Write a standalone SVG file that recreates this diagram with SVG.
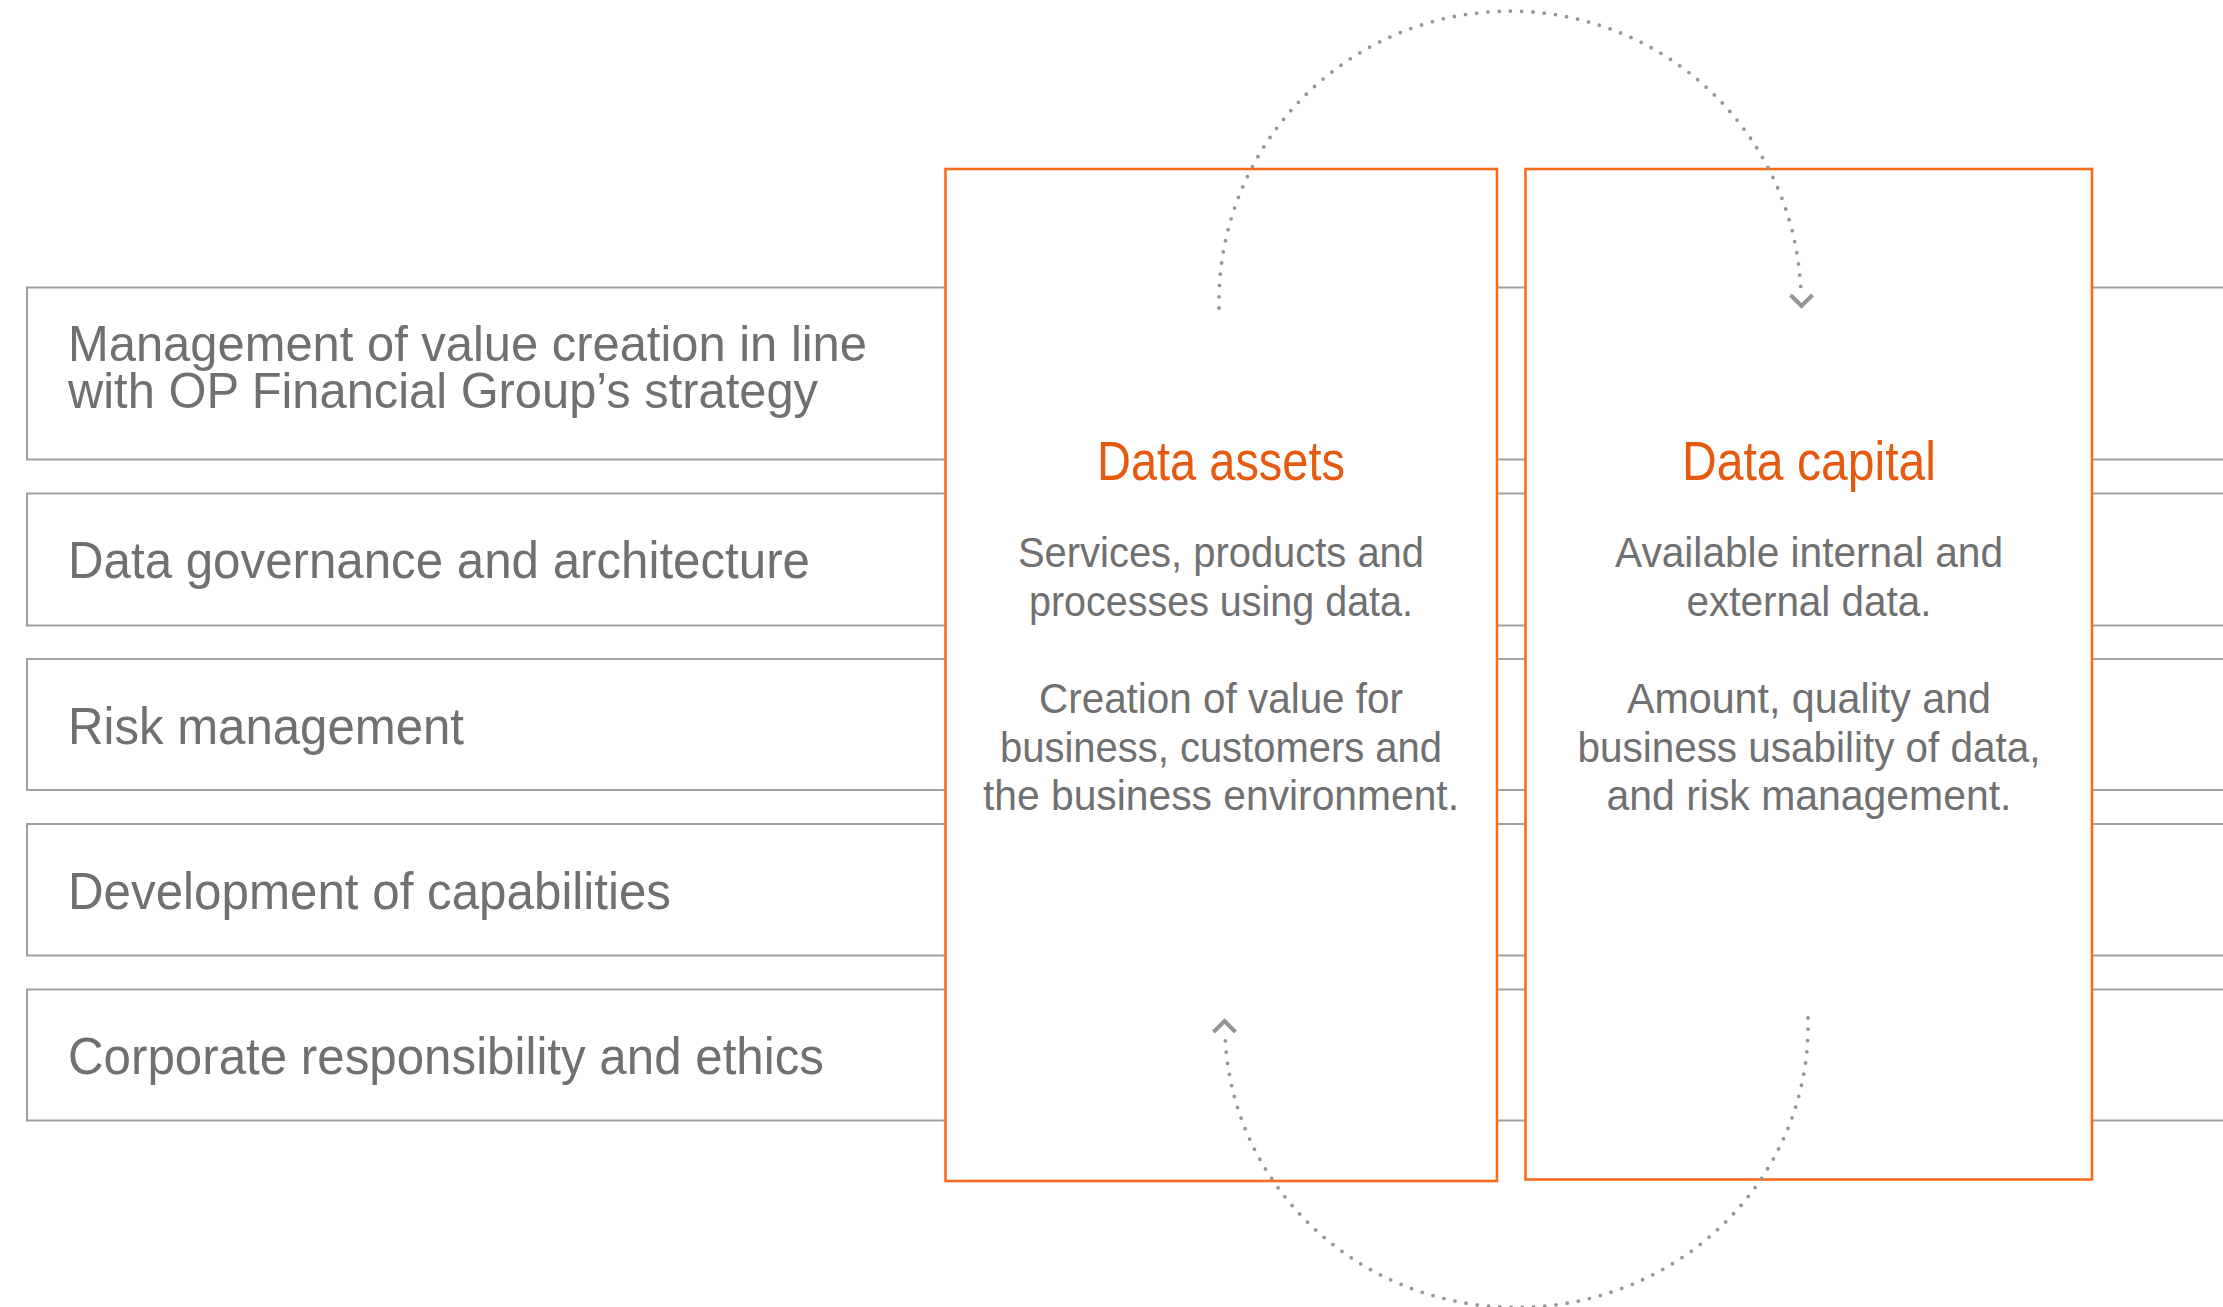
<svg xmlns="http://www.w3.org/2000/svg" width="2223" height="1307" viewBox="0 0 2223 1307">
  <style>
    .band { fill: none; stroke: #a0a0a0; stroke-width: 2; }
    .obox { fill: #ffffff; stroke: #fa6b1c; stroke-width: 2.6; }
    .lt { font-family: "Liberation Sans", Arial, sans-serif; font-size: 52px; fill: #707070; }
    .lt2 { font-family: "Liberation Sans", Arial, sans-serif; font-size: 50px; fill: #707070; }
    .ttl { font-family: "Liberation Sans", Arial, sans-serif; font-size: 55px; fill: #e65a10; text-anchor: middle; }
    .bt { font-family: "Liberation Sans", Arial, sans-serif; font-size: 43px; fill: #707070; text-anchor: middle; }
    .dots { fill: none; stroke: #959595; stroke-width: 3.8; stroke-linecap: round; stroke-dasharray: 0 11.3; }
    .chev { fill: none; stroke: #959595; stroke-width: 4; stroke-linecap: butt; stroke-linejoin: miter; }
  </style>
  <rect x="0" y="0" width="2223" height="1307" fill="#ffffff"/>

  <g id="band-value-creation">
    <path class="band" d="M2223,287.5 H27 V459.5 H2223"/>
    <text class="lt2" x="68" y="361" textLength="799" lengthAdjust="spacingAndGlyphs">Management of value creation in line</text>
    <text class="lt2" x="68" y="408" textLength="750" lengthAdjust="spacingAndGlyphs">with OP Financial Group’s strategy</text>
  </g>
  <g id="band-governance">
    <path class="band" d="M2223,493.5 H27 V625.5 H2223"/>
    <text class="lt" x="68" y="578" textLength="742" lengthAdjust="spacingAndGlyphs">Data governance and architecture</text>
  </g>
  <g id="band-risk">
    <path class="band" d="M2223,659 H27 V790 H2223"/>
    <text class="lt" x="68" y="744" textLength="396" lengthAdjust="spacingAndGlyphs">Risk management</text>
  </g>
  <g id="band-capabilities">
    <path class="band" d="M2223,824 H27 V955.5 H2223"/>
    <text class="lt" x="68" y="909" textLength="603" lengthAdjust="spacingAndGlyphs">Development of capabilities</text>
  </g>
  <g id="band-responsibility">
    <path class="band" d="M2223,989.5 H27 V1120.5 H2223"/>
    <text class="lt" x="68" y="1074" textLength="756" lengthAdjust="spacingAndGlyphs">Corporate responsibility and ethics</text>
  </g>

  <g id="data-assets">
    <rect class="obox" x="945.5" y="169" width="551.5" height="1012"/>
    <text class="ttl" x="1221" y="480" textLength="248" lengthAdjust="spacingAndGlyphs">Data assets</text>
    <text class="bt" x="1221" y="567" textLength="406" lengthAdjust="spacingAndGlyphs">Services, products and</text>
    <text class="bt" x="1221" y="615.5" textLength="384" lengthAdjust="spacingAndGlyphs">processes using data.</text>
    <text class="bt" x="1221" y="713" textLength="364" lengthAdjust="spacingAndGlyphs">Creation of value for</text>
    <text class="bt" x="1221" y="761.5" textLength="442" lengthAdjust="spacingAndGlyphs">business, customers and</text>
    <text class="bt" x="1221" y="810" textLength="476" lengthAdjust="spacingAndGlyphs">the business environment.</text>
  </g>

  <g id="data-capital">
    <rect class="obox" x="1525.5" y="169" width="566.5" height="1010.5"/>
    <text class="ttl" x="1809" y="480" textLength="254" lengthAdjust="spacingAndGlyphs">Data capital</text>
    <text class="bt" x="1809" y="567" textLength="388" lengthAdjust="spacingAndGlyphs">Available internal and</text>
    <text class="bt" x="1809" y="615.5" textLength="245" lengthAdjust="spacingAndGlyphs">external data.</text>
    <text class="bt" x="1809" y="713" textLength="364" lengthAdjust="spacingAndGlyphs">Amount, quality and</text>
    <text class="bt" x="1809" y="761.5" textLength="463" lengthAdjust="spacingAndGlyphs">business usability of data,</text>
    <text class="bt" x="1809" y="810" textLength="405" lengthAdjust="spacingAndGlyphs">and risk management.</text>
  </g>

  <g id="connectors">
    <path class="dots" d="M1219,308 A291,291 0 0 1 1801,296"/>
    <path class="chev" d="M1790.5,295 L1801.5,306 L1812.5,295"/>
    <path class="dots" d="M1808,1018 A291.5,282 0 0 1 1225,1033"/>
    <path class="chev" d="M1213.5,1032 L1224.5,1021 L1235.5,1032"/>
  </g>
</svg>
